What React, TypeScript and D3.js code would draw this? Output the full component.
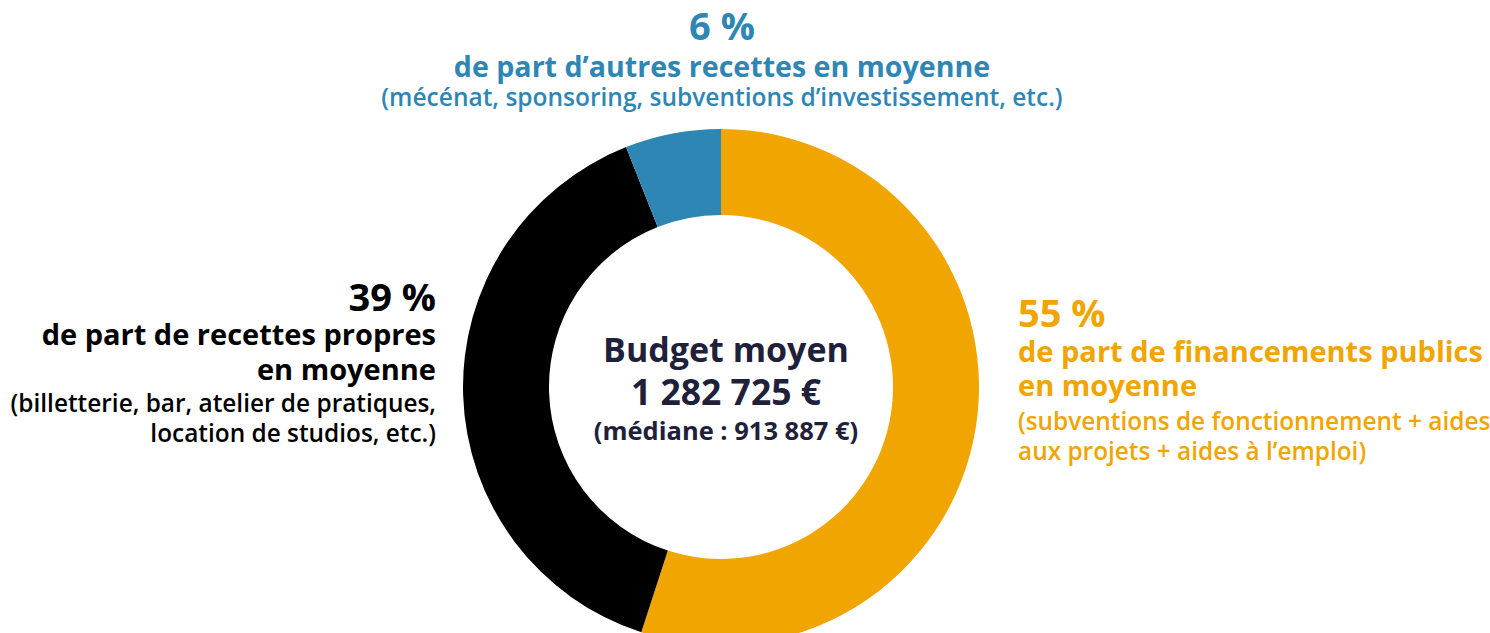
import { useEffect, useRef } from "react";
import * as d3 from "d3";

const categories = ["financements publics", "recettes propres", "autres recettes"];
const shares = [55, 39, 6];
const colors = ["#f0a500", "#000000", "#2e86b5"];

const topLines = ["6 %", "de part d’autres recettes en moyenne", "(mécénat, sponsoring, subventions d’investissement, etc.)"];
const leftLines = ["39 %", "de part de recettes propres", "en moyenne", "(billetterie, bar, atelier de pratiques,", "location de studios, etc.)"];
const rightLines = ["55 %", "de part de financements publics", "en moyenne", "(subventions de fonctionnement + aides", "aux projets + aides à l’emploi)"];
const centerLines = ["Budget moyen", "1 282 725 €", "(médiane : 913 887 €)"];

const width = 1490;
const height = 633;
const font = "'Open Sans', sans-serif";

export default function App() {
  const ref = useRef<SVGSVGElement | null>(null);

  useEffect(() => {
    const svg = d3.select(ref.current);
    svg.selectAll("*").remove();

    const cx = 721;
    const cy = 387;
    const pie = d3.pie<number>().sort(null).value((d) => d);
    const arc = d3.arc<d3.PieArcDatum<number>>().innerRadius(172).outerRadius(258);

    svg.append("g")
      .attr("transform", `translate(${cx},${cy})`)
      .selectAll("path")
      .data(pie(shares))
      .enter()
      .append("path")
      .attr("d", (d) => arc(d) as string)
      .attr("fill", (d, i) => colors[i])
      .attr("data-name", (d, i) => categories[i]);

    const drawBlock = (lines: string[], x: number, ys: number[], sizes: number[], anchor: string, color: string, weights: number[]) => {
      const g = svg.append("g").attr("fill", color).attr("font-family", font).attr("text-anchor", anchor);
      lines.forEach((t, i) => {
        g.append("text")
          .attr("x", x)
          .attr("y", ys[i])
          .attr("font-size", sizes[i])
          .attr("font-weight", weights[i])
          .text(t);
      });
    };

    drawBlock(topLines, 722, [40, 77, 106], [38, 28.6, 24.5], "middle", colors[2], [700, 700, 600]);
    drawBlock(leftLines, 436, [311, 345, 380, 412, 442], [38, 29, 29, 24.4, 24.4], "end", colors[1], [700, 700, 700, 600, 600]);
    drawBlock(rightLines, 1018, [327, 362, 396, 430, 460], [38, 29, 29, 24.4, 24.4], "start", colors[0], [700, 700, 700, 600, 600]);
    drawBlock(centerLines, 726, [362, 405, 440], [34, 35.5, 25.5], "middle", "#1e2139", [700, 700, 700]);
  }, []);

  return (
    <svg ref={ref} width={width} height={height} style={{ position: "absolute", left: 0, top: 0 }} />
  );
}
